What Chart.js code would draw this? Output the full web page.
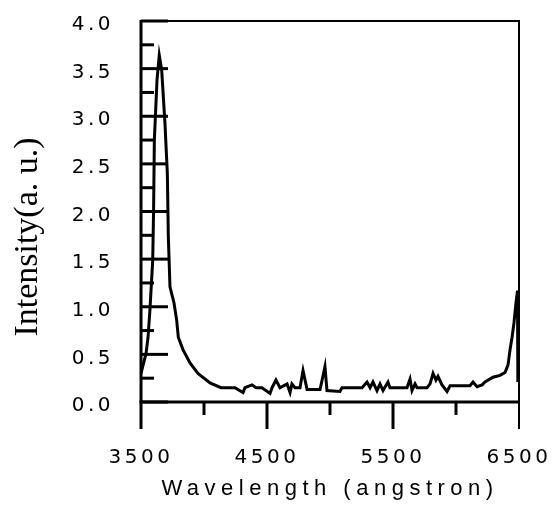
<!DOCTYPE html>
<html><head><meta charset="utf-8">
<script src="https://cdn.jsdelivr.net/npm/chart.js"></script>
<style>html,body{margin:0;padding:0;background:#fff}</style>
</head><body>
<canvas id="c" width="559" height="522"></canvas>
<script>
const wavelength = [
  3500, 3540, 3556, 3571, 3593, 3600, 3606, 3627, 3645, 3664,
  3690, 3709, 3717, 3730, 3762, 3783, 3796, 3833, 3889, 3952,
  4048, 4135, 4246, 4310, 4325, 4381, 4413, 4460, 4524, 4540,
  4571, 4603, 4659, 4683, 4698, 4722, 4762, 4786, 4818, 4921,
  4960, 4976, 5079, 5095, 5254, 5294, 5318, 5341, 5373, 5397,
  5421, 5460, 5476, 5611, 5635, 5651, 5675, 5691, 5770, 5794,
  5818, 5841, 5857, 5889, 5929, 5953, 6111, 6135, 6167, 6207,
  6230, 6294, 6349, 6389, 6413, 6429, 6445, 6460, 6476, 6488,
  6490, 6492, 6494
];
const intensity = [
  0.30, 0.51, 0.68, 0.97, 1.49, 2.02, 2.75, 3.38, 3.64, 3.49,
  2.93, 2.40, 1.73, 1.21, 1.04, 0.86, 0.68, 0.55, 0.41, 0.30,
  0.20, 0.15, 0.15, 0.10, 0.15, 0.18, 0.15, 0.15, 0.09, 0.15,
  0.23, 0.15, 0.19, 0.10, 0.19, 0.15, 0.15, 0.33, 0.13, 0.13,
  0.37, 0.12, 0.11, 0.15, 0.15, 0.21, 0.15, 0.21, 0.12, 0.19,
  0.12, 0.21, 0.15, 0.15, 0.24, 0.12, 0.19, 0.15, 0.15, 0.19,
  0.30, 0.23, 0.27, 0.18, 0.11, 0.17, 0.17, 0.21, 0.16, 0.18,
  0.21, 0.26, 0.28, 0.31, 0.39, 0.55, 0.68, 0.83, 1.04, 1.17,
  0.21, 1.15, 0.22
];
const xTickValues = [3500, 4500, 5500, 6500];
const xMinorTicks = [4000, 5000, 6000];
const yTickValues = [0, 0.5, 1, 1.5, 2, 2.5, 3, 3.5, 4];
const yMinorTicks = [0.25, 0.75, 1.25, 1.75, 2.25, 2.75, 3.25, 3.75];
const xTitle = 'Wavelength (angstron)';
const yTitle = 'Intensity(a. u.)';

const framePlugin = {
  id: 'frame',
  beforeDraw(chart) { chart.ctx.letterSpacing = '3.5px'; },
  afterDraw(chart) {
    const ctx = chart.ctx;
    const {left, right, top, bottom} = chart.chartArea;
    const xs = chart.scales.x, ys = chart.scales.y;
    ctx.save();
    ctx.letterSpacing = '0px';
    ctx.strokeStyle = '#000';
    ctx.lineCap = 'butt';
    const line = (x1, y1, x2, y2, w) => {
      ctx.lineWidth = w; ctx.beginPath(); ctx.moveTo(x1, y1); ctx.lineTo(x2, y2); ctx.stroke();
    };
    line(left, top, right + 1, top, 2);
    line(right, top, right, bottom + 27, 2);
    line(left, top - 1, left, bottom + 27, 3);
    line(left - 1.5, bottom, right, bottom, 3);
    xTickValues.forEach(v => {
      if (v === xs.min || v === xs.max) return;
      const p = xs.getPixelForValue(v); line(p, bottom, p, bottom + 27, 3);
    });
    xMinorTicks.forEach(v => { const p = xs.getPixelForValue(v); line(p, bottom, p, bottom + 13, 3); });
    yTickValues.forEach(v => { const p = ys.getPixelForValue(v); line(left, p, left + 27, p, 3); });
    yMinorTicks.forEach(v => { const p = ys.getPixelForValue(v); line(left, p, left + 13, p, 3); });

    ctx.fillStyle = '#000';
    ctx.font = '22px "Liberation Sans"';
    ctx.letterSpacing = '5.5px';
    ctx.textAlign = 'center';
    ctx.textBaseline = 'alphabetic';
    ctx.fillText(xTitle, (left + right) / 2, 495);

    ctx.letterSpacing = '0px';
    ctx.font = '34px "Liberation Serif"';
    ctx.translate(37, 237);
    ctx.rotate(-Math.PI / 2);
    ctx.fillText(yTitle, 0, 0);
    ctx.restore();
  }
};

new Chart(document.getElementById('c'), {
  type: 'scatter',
  data: {
    datasets: [{
      data: wavelength.map((w, i) => ({x: w, y: intensity[i]})),
      showLine: true,
      borderColor: '#000',
      borderWidth: 3,
      pointRadius: 0,
      tension: 0,
      fill: false
    }]
  },
  options: {
    responsive: false,
    animation: false,
    layout: {padding: {left: 0, top: 21, right: 40, bottom: 0}},
    plugins: {legend: {display: false}, tooltip: {enabled: false}},
    scales: {
      x: {
        type: 'linear', min: 3500, max: 6500,
        afterBuildTicks: s => { s.ticks = xTickValues.map(v => ({value: v})); },
        afterFit: s => { s.height = 120; s.paddingLeft = 0; s.paddingRight = 0; s.paddingTop = 0; s.paddingBottom = 0; },
        grid: {display: false, drawTicks: false},
        border: {display: false},
        ticks: {color: '#000', font: {family: 'DejaVu Sans', size: 20}, padding: 44,
                maxRotation: 0, autoSkip: false, callback: v => String(v)}
      },
      y: {
        type: 'linear', min: 0, max: 4,
        afterBuildTicks: s => { s.ticks = yTickValues.map(v => ({value: v})); },
        afterFit: s => { s.width = 141; s.paddingLeft = 0; s.paddingRight = 0; s.paddingTop = 0; s.paddingBottom = 0; },
        grid: {display: false, drawTicks: false},
        border: {display: false},
        ticks: {color: '#000', font: {family: 'DejaVu Sans', size: 20}, padding: 27,
                labelOffset: 4, autoSkip: false, callback: v => v.toFixed(1)}
      }
    }
  },
  plugins: [framePlugin]
});
</script>
</body></html>
